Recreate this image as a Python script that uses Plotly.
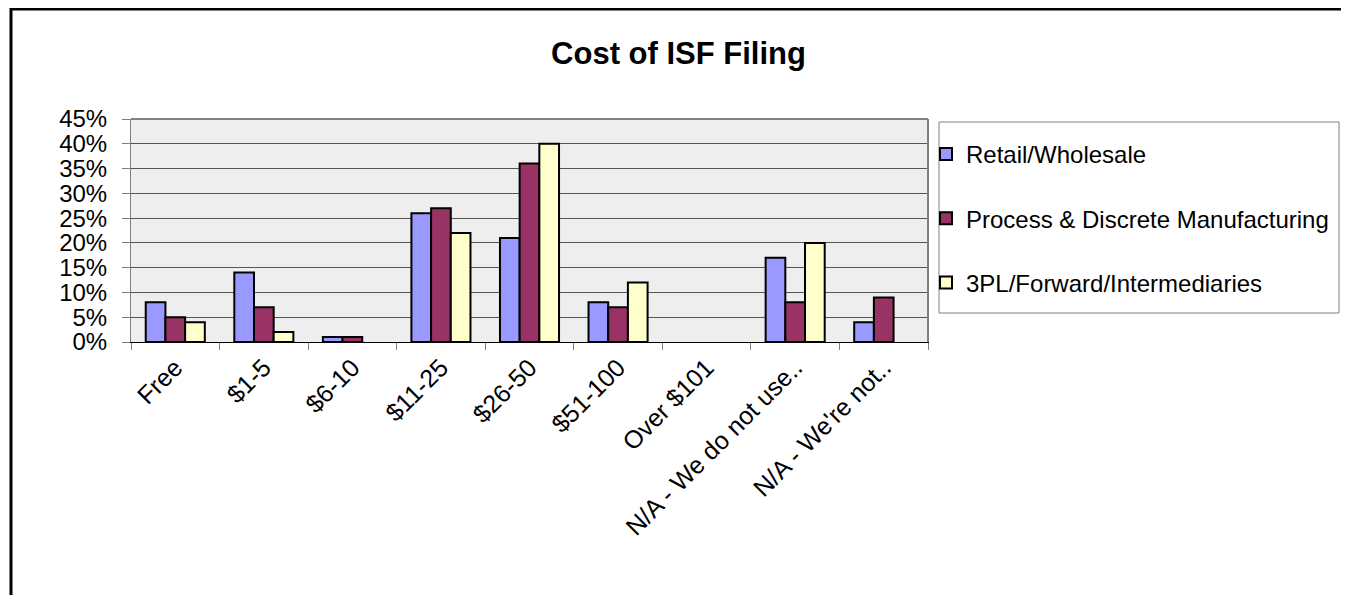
import plotly.graph_objects as go

# Survey answers (percent of respondents)
categories = ["Free", "$1-5", "$6-10", "$11-25", "$26-50", "$51-100",
              "Over $101", "N/A - We do not use..", "N/A - We're not.."]
retail = [8, 14, 1, 26, 21, 8, 0, 17, 4]
process_mfg = [5, 7, 1, 27, 36, 7, 0, 8, 9]
threepl = [4, 2, 0, 22, 40, 12, 0, 20, 0]

series_names = ["Retail/Wholesale", "Process & Discrete Manufacturing", "3PL/Forward/Intermediaries"]
series_values = [retail, process_mfg, threepl]
colors = ["#9999FF", "#993366", "#FFFFCC"]

FONT = "Arial, Liberation Sans, sans-serif"

fig = go.Figure()
for name, vals, col in zip(series_names, series_values, colors):
    # zero answers are not drawn at all in the original
    fig.add_trace(go.Bar(
        x=categories, y=[v if v else None for v in vals], name=name, legendgroup=name,
        marker=dict(color=col, line=dict(color="black", width=2)),
    ))

# page offset of 8px (body margin); plot area in page pixels: x 131..928, y 119..342
OFF = 8
W, H = 1349 - OFF, 595 - OFF
L, R, T, B = 131 - OFF, 1349 - 928, 119 - OFF, 595 - 342
pw, ph = 928 - 131, 342 - 119

def px_x(p):
    return (p - 131) / pw

def px_y(p):
    return (342 - p) / ph

fig.update_layout(
    width=W, height=H,
    margin=dict(l=L, r=R, t=T, b=B, autoexpand=False),
    paper_bgcolor="white", plot_bgcolor="#EEEEEE",
    font=dict(family=FONT, color="black", size=24),
    barmode="group", bargap=0.333, bargroupgap=0,
    title=dict(text="<b>Cost of ISF Filing</b>", x=0.5, xref="container", xanchor="center",
               y=1 - (53 - OFF) / H, yref="container", yanchor="middle",
               font=dict(family=FONT, size=31, color="black")),
    legend=dict(x=px_x(926), y=px_y(132), xanchor="left", yanchor="top",
                borderwidth=0, bgcolor="rgba(0,0,0,0)",
                traceorder="grouped", tracegroupgap=30,
                font=dict(family=FONT, size=24, color="black"),
                itemwidth=30),
    xaxis=dict(type="category", tickangle=-45, tickson="boundaries",
               ticks="outside", ticklen=7, tickcolor="#808080",
               showline=True, linecolor="black", linewidth=1,
               showgrid=False, tickfont=dict(size=25)),
    yaxis=dict(range=[0, 45], dtick=5, ticksuffix="%",
               ticks="outside", ticklen=8, tickcolor="#808080", ticklabelstandoff=10,
               showline=True, linecolor="#808080", linewidth=1, mirror=True,
               showgrid=True, gridcolor="#555555", gridwidth=1,
               zeroline=False, tickfont=dict(size=24)),
    shapes=[
        dict(type="line", xref="paper", yref="paper", x0=0, x1=1, y0=1, y1=1,
             line=dict(color="#808080", width=2)),
        dict(type="line", xref="paper", yref="paper", x0=1, x1=1, y0=0, y1=1,
             line=dict(color="#808080", width=2)),
        # legend frame
        dict(type="rect", xref="paper", yref="paper",
             x0=px_x(939), x1=px_x(1339), y0=px_y(313), y1=px_y(122),
             line=dict(color="#808080", width=1), layer="below"),
        # outer chart border
        dict(type="rect", xref="paper", yref="paper",
             x0=px_x(11), x1=px_x(1362), y0=px_y(610), y1=px_y(9),
             line=dict(color="black", width=3), layer="above"),
    ],
)

fig.write_html("out.html")
